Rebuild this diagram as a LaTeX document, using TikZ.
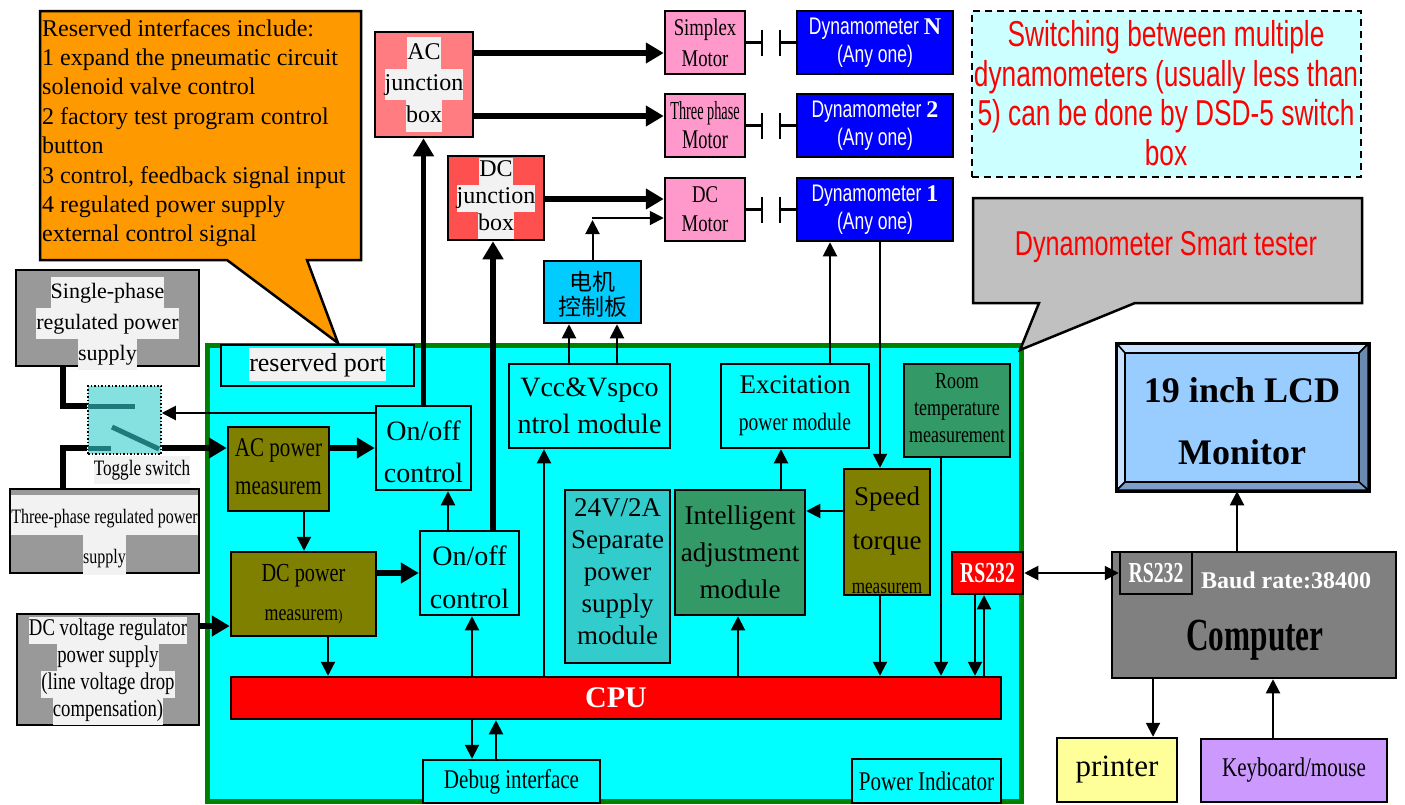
\documentclass[tikz,border=0pt]{standalone}
\usepackage{fontspec}
\setmainfont{Liberation Serif}
\newfontfamily\nserif[FakeStretch=0.78]{Liberation Serif}
\newfontfamily\cserif[FakeStretch=0.68]{Liberation Serif}
\newfontfamily\xserif[FakeStretch=0.55]{Liberation Serif}
\newfontfamily\narial[FakeStretch=0.73]{Liberation Sans}
\newfontfamily\cjkfont{Noto Sans CJK SC}
\usetikzlibrary{arrows.meta,fit,calc}
\definecolor{orangeC}{HTML}{FF9900}
\definecolor{hlbg}{HTML}{F2F2F2}
\definecolor{grayC}{HTML}{999999}
\definecolor{cyanC}{HTML}{00FFFF}
\definecolor{frameG}{HTML}{008000}
\definecolor{oliveC}{HTML}{808000}
\definecolor{seaC}{HTML}{339966}
\definecolor{tealC}{HTML}{33CCCC}
\definecolor{motorC}{HTML}{FF99CC}
\definecolor{acjC}{HTML}{FF7C80}
\definecolor{dcjC}{HTML}{FF5050}
\definecolor{dynC}{HTML}{0000FF}
\definecolor{swC}{HTML}{CCFFFF}
\definecolor{smartC}{HTML}{C0C0C0}
\definecolor{monC}{HTML}{99CCFF}
\definecolor{monLight}{HTML}{C8E2FF}
\definecolor{monDark}{HTML}{6A8AB2}
\definecolor{monMid}{HTML}{7E9FCB}
\definecolor{compC}{HTML}{808080}
\definecolor{prnC}{HTML}{FFFF99}
\definecolor{kbC}{HTML}{CC99FF}
\definecolor{emC}{HTML}{00CCFF}
\definecolor{togC}{HTML}{85E0E0}
\definecolor{togL}{HTML}{1F7B7B}
\definecolor{redC}{HTML}{FF0000}
\newcommand{\fs}[2]{\fontsize{#1}{#2}\selectfont}
\newcommand{\hlt}[1]{{\setlength{\fboxsep}{0pt}\colorbox{hlbg}{\strut #1}}}
% box with centred text: name, box style, corners, text style, text
\newcommand{\tbox}[5]{%
  \node[box,#2,fit={#3}] (#1) {};
  \node[txt,#4] (#1t) at (#1.center) {#5};}
\begin{document}
\begin{tikzpicture}[x=1pt,y=-1pt,
  box/.style={draw=black, line width=2.5pt, inner sep=0pt},
  txt/.style={inner sep=0pt, align=center},
  tarr/.style={line width=2pt, -{Triangle[length=14pt,width=14pt]}},
  tline/.style={line width=2pt},
  karr/.style={line width=5.5pt, -{Triangle[length=18pt,width=20pt]}},
  kline/.style={line width=5.5pt},
  cline/.style={line width=2.5pt}]
\fill[white] (0,0) rectangle (1405,804);
\useasboundingbox (0,0) rectangle (1405,804);

% helper coordinates
\foreach \v in {63,304,328,448,472,493,496,544,569,617,738,781,830,880,941,975,984,1153,1237,1273,762,780}
  \coordinate (x\v) at (\v,0);
\foreach \v in {53,116,199,218,220,406,413,448,511,626}
  \coordinate (c\v) at (0,\v);

% main frame
\node[draw=frameG, line width=5pt, fill=cyanC, inner sep=0pt, fit={(207,345) (1021,801)}] (frame) {};

% orange callout
\draw[line width=2.5pt, fill=orangeC, line join=miter] (40,11) -- (361,11) -- (361,260) -- (307,260) -- (338,343) -- (227,260) -- (40,260) -- cycle;
\foreach \t [count=\i from 0] in {Reserved interfaces include:,1 expand the pneumatic circuit,solenoid valve control,2 factory test program control,button,{3 control, feedback signal input},4 regulated power supply,external control signal}
  \node[anchor=base west, inner sep=0pt, font=\fs{24}{29}] (co\i) at (42,{36+29.4*\i}) {\t};

% power supplies
\node[box, fill=grayC, fit={(16,270) (199,366)}] (sp) {};
\node[txt, font=\fs{22}{31}] (sptxt) at (107.5,323) {\hlt{Single-phase}\\\hlt{regulated power}\\\hlt{supply}};
\node[box, fill=grayC, fit={(10,489) (199,573)}] (tp) {};
\node[txt, font=\nserif\fs{20.5}{40}] (tptxt) at (104.5,535) {\hlt{Three-phase regulated power}\\\hlt{supply}};
\node[box, fill=grayC, fit={(17,614) (199,725)}] (dcv) {};
\node[txt, font=\nserif\fs{24}{27}] (dcvtxt) at (108,671) {\hlt{DC voltage regulator}\\\hlt{power supply}\\\hlt{(line voltage drop}\\\hlt{compensation)}};

% toggle switch
\node[draw, dotted, line width=1.5pt, fill=togC, inner sep=0pt, fit={(88,386) (161,454)}] (tog) {};
\draw[togL, line width=5pt] (88,406) -- (135,406);
\draw[togL, line width=5pt] (112,427) -- (159,449);
\draw[togL, line width=5pt] (88,448) -- (111,448);
\node[txt, font=\nserif\fs{22}{28}] (toglbl) at (142,470) {\hlt{Toggle switch}};

% inside frame
\tbox{rp}{fill=cyanC}{(221,345) (414,386)}{font=\fs{26}{33}, yshift=1pt}{\hlt{reserved port}}
\tbox{acp}{fill=oliveC}{(228,427) (329,511)}{font=\nserif\fs{27}{38}, yshift=2pt}{AC power\\measurem}
\node[box, fill=cyanC, fit={(376,406) (471,490)}] (on1) {};
\node[txt, font=\fs{28}{42}] (on1t) at (423.5,452) {On/off\\control};
\tbox{dcp}{fill=oliveC}{(231,552) (376,636)}{font=\nserif\fs{26}{39}}{DC power\\{\fs{23}{39}measurem\fs{16}{39})}}
\node[box, fill=cyanC, fit={(420,531) (519,615)}] (on2) {};
\node[txt, font=\fs{28}{43}] (on2t) at (469.5,577) {On/off\\control};
\tbox{vcc}{fill=cyanC}{(509,364) (670,448)}{font=\fs{28}{37}}{Vcc\&Vspco\\ntrol module}
\tbox{exc}{fill=cyanC}{(721,364) (869,448)}{font=\fs{27}{37}}{Excitation\\{\nserif\fs{25}{37}power module}}
\node[box, fill=seaC, fit={(904,364) (1010,457)}] (room) {};
\node[txt, font=\nserif\fs{23}{27}] (roomt) at (957,408) {Room\\temperature\\measurement};
\node[box, fill=tealC, fit={(565,490) (670,663)}] (v24) {};
\node[txt, font=\fs{27}{32}] (v24t) at (617.5,572) {24V/2A\\Separate\\power\\supply\\module};
\tbox{ia}{fill=seaC}{(675,490) (805,615)}{font=\fs{27}{37}}{Intelligent\\adjustment\\module}
\node[box, fill=oliveC, fit={(844,469) (930,595)}] (st) {};
\node[txt, font=\fs{27}{44}] (stt) at (887,540) {Speed\\torque\\{\nserif\fs{22}{44}measurem}};
\tbox{rs}{fill=redC}{(952,552) (1023,594)}{text=white, font=\cserif\bfseries\fs{29}{30}}{RS232}
\tbox{cpu}{fill=redC}{(231,677) (1001,719)}{text=white, font=\bfseries\fs{30}{32}}{CPU}
\tbox{dbg}{fill=cyanC}{(423,760) (600,803)}{font=\nserif\fs{27}{30}}{Debug interface}
\tbox{pi}{fill=cyanC}{(852,759) (1001,803)}{font=\nserif\fs{27}{30}}{Power Indicator}

% above frame
\tbox{em}{fill=emC}{(544,261) (641,323)}{font=\cjkfont\fs{23}{25}, yshift=-2pt}{电机\\控制板}
\tbox{acj}{fill=acjC}{(375,32) (473,137)}{font=\fs{24}{31.5}}{\hlt{AC}\\\hlt{junction}\\\hlt{box}}
\tbox{dcj}{fill=dcjC}{(448,156) (544,240)}{font=\fs{24}{27}}{\hlt{DC}\\\hlt{junction}\\\hlt{box}}
\tbox{m1}{fill=motorC}{(665,11) (745,74)}{font=\nserif\fs{24}{31}}{Simplex\\Motor}
\tbox{m2}{fill=motorC}{(665,94) (745,157)}{font=\cserif\fs{27}{29}}{{\xserif\fs{26}{29}Three phase}\\Motor}
\tbox{m3}{fill=motorC}{(665,178) (745,241)}{font=\nserif\fs{24}{29}}{DC\\Motor}
\tbox{dN}{fill=dynC}{(797,11) (953,74)}{text=white, font=\narial\fs{24}{28}}{Dynamometer {\rmfamily\bfseries N}\\(Any one)}
\tbox{d2}{fill=dynC}{(797,94) (953,157)}{text=white, font=\narial\fs{24}{28}}{Dynamometer {\rmfamily\bfseries 2}\\(Any one)}
\tbox{d1}{fill=dynC}{(797,178) (953,241)}{text=white, font=\narial\fs{24}{28}}{Dynamometer {\rmfamily\bfseries 1}\\(Any one)}

% switching note
\node[draw, dash pattern=on 7pt off 5pt, line width=2.5pt, fill=swC, inner sep=0pt, fit={(972,11) (1361,177)}] (sw) {};
\node[txt, text=redC, font=\narial\fs{36}{39.5}] (swtxt) at (1166,93) {Switching between multiple\\dynamometers (usually less than\\5) can be done by DSD-5 switch\\box};

% smart tester callout
\draw[line width=2.5pt, fill=smartC, line join=miter] (973,198) -- (1362,198) -- (1362,303) -- (1135,303) -- (1020,350) -- (1039,303) -- (973,303) -- cycle;
\node[txt, anchor=base, text=redC, font=\narial\fs{34.5}{40}] (smarttxt) at (1166,255) {Dynamometer Smart tester};

% monitor
\node[draw, line width=2.5pt, fill=monC, inner sep=0pt, fit={(1117,344) (1368,490)}] (mon) {};
\filldraw[fill=monLight, line width=1.5pt] (1117,344) -- (1368,344) -- (1359,353) -- (1125,353) -- cycle;
\filldraw[fill=monLight, line width=1.5pt] (1117,344) -- (1125,353) -- (1125,482) -- (1117,490) -- cycle;
\filldraw[fill=monDark, line width=1.5pt] (1368,344) -- (1368,490) -- (1359,482) -- (1359,353) -- cycle;
\filldraw[fill=monMid, line width=1.5pt] (1117,490) -- (1368,490) -- (1359,482) -- (1125,482) -- cycle;
\draw[line width=2.5pt] (1125,353) rectangle (1359,482);
\draw[line width=2.5pt] (mon.north west) rectangle (mon.south east);
\node[txt, font=\bfseries\fs{36}{62}] (montxt) at (1242,421) {19 inch LCD\\Monitor};

% computer
\node[box, fill=compC, fit={(1112,552) (1396,678)}] (comp) {};
\tbox{crs}{fill=compC}{(1120,552) (1192,594)}{text=white, font=\cserif\bfseries\fs{29}{30}}{RS232}
\node[txt, anchor=base, text=white, font=\bfseries\fs{24}{28}] (baud) at (1286,588) {Baud rate:38400};
\node[txt, anchor=base, font=\cserif\bfseries\fs{46}{50}] (comptxt) at (1255,650) {Computer};
\tbox{prn}{fill=prnC}{(1057,738) (1177,802)}{font=\fs{31}{34}}{printer}
\tbox{kb}{fill=kbC}{(1201,739) (1387,802)}{font=\nserif\fs{27}{30}}{Keyboard/mouse}

% ---- thick connectors
\draw[kline, line join=miter] (sp.south -| x63) |- (tog.west |- c406);
\draw[kline, line join=miter] (tp.north -| x63) |- (tog.west |- c448);
\draw[karr] (tog.east |- c448) -- (acp.west |- c448);
\draw[karr] (acp.east |- c448) -- (on1.west |- c448);
\draw[karr] (on1.north) -- (on1.north |- acj.south);
\draw[karr] (acj.east |- c53) -- (m1.west |- c53);
\draw[karr] (acj.east |- c116) -- (m2.west |- c116);
\draw[karr] (dcp.east |- on2.west) -- (on2.west);
\draw[karr] (on2.north -| x493) -- (dcj.south -| x493);
\draw[karr] (dcj.east |- c199) -- (m3.west |- c199);
\draw[karr] (dcv.east |- c626) -- (dcp.west |- c626);

% ---- thin connectors
\draw[tarr] (on1.west |- c413) -- (tog.east |- c413);
\draw[tarr] (acp.south -| x304) -- (dcp.north -| x304);
\draw[tarr] (dcp.south -| x328) -- (cpu.north -| x328);
\draw[tarr] (cpu.north -| x472) -- (on2.south -| x472);
\draw[tarr] (on2.north -| x448) -- (on1.south -| x448);
\draw[tarr] (cpu.north -| x544) -- (vcc.south -| x544);
\draw[tarr] (vcc.north -| x569) -- (em.south -| x569);
\draw[tarr] (vcc.north -| x617) -- (em.south -| x617);
\draw[tarr] (em.north) -- (em.north |- c220);
\draw[tarr] ($(em.north |- c218)+(-1,0)$) -- (m3.west |- c218);
\draw[tarr] (cpu.north -| x738) -- (ia.south -| x738);
\draw[tarr] (ia.north -| x781) -- (exc.south -| x781);
\draw[tarr] (st.west |- c511) -- (ia.east |- c511);
\draw[tarr] (exc.north -| x830) -- (d1.south -| x830);
\draw[tarr] (d1.south -| x880) -- (st.north -| x880);
\draw[tarr] (st.south -| x880) -- (cpu.north -| x880);
\draw[tarr] (room.south -| x941) -- (cpu.north -| x941);
\draw[tarr] (rs.south -| x975) -- (cpu.north -| x975);
\draw[tarr] (cpu.north -| x984) -- (rs.south -| x984);
\draw[tarr] (cpu.south -| x472) -- (dbg.north -| x472);
\draw[tarr] (dbg.north -| x496) -- (cpu.south -| x496);
\draw[tline, {Triangle[length=14pt,width=14pt]}-{Triangle[length=14pt,width=14pt]}] (rs.east) -- (crs.west);
\draw[tarr] (comp.north -| x1237) -- (mon.south -| x1237);
\draw[tarr] (comp.south -| x1153) -- (prn.north -| x1153);
\draw[tarr] (kb.north -| x1273) -- (comp.south -| x1273);

% couplings
\foreach \m/\d in {m1/dN,m2/d2,m3/d1}{
  \draw[cline] (\m.east) -- (\m.east -| x762);
  \draw[cline] ($(\m.east -| x762)+(0,-13)$) -- ($(\m.east -| x762)+(0,13)$);
  \draw[cline] ($(\m.east -| x780)+(0,-13)$) -- ($(\m.east -| x780)+(0,13)$);
  \draw[cline] (\m.east -| x780) -- (\d.west);
}
\end{tikzpicture}
\end{document}
